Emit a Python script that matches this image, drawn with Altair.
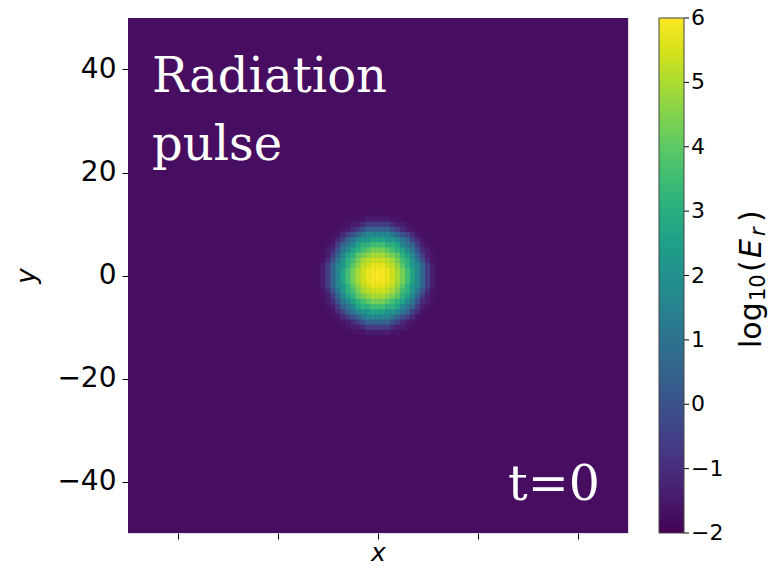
import altair as alt
import pandas as pd
import math

# ---- data ----
# radial profile of log10(E_r) around the pulse centre (radius in x/y units, 0.5 steps)
profile_r = [0, 0.5, 1, 1.5, 2, 2.5, 3, 3.5, 4, 4.5, 5, 5.5, 6, 6.5, 7, 7.5,
             8, 8.5, 9, 9.5, 10, 10.5, 11, 11.5, 12, 12.5]
profile_v = [6.00, 5.98, 5.93, 5.85, 5.73, 5.58, 5.39, 5.17, 4.91, 4.62, 4.30,
             3.94, 3.55, 3.13, 2.67, 2.18, 1.65, 1.09, 0.52, -0.05, -0.60,
             -1.05, -1.40, -1.60, -1.70, -1.74]
background_value = -1.75
cell_centres = list(range(-14, 15))
domain_x = [-50, 50]
domain_y = [-50, 50]
y_ticks = [-40, -20, 0, 20, 40]
x_ticks = [-40, -20, 0, 20, 40]
cbar_ticks = [-2, -1, 0, 1, 2, 3, 4, 5, 6]
color_domain = [-2, 6]

# ---- build tables ----
lookup = dict(zip(profile_r, profile_v))
half = 0.55  # half cell width drawn (slight overlap hides anti-aliasing seams)
rows = []
for cx in cell_centres:
    for cy in cell_centres:
        r = round(math.hypot(cx, cy) * 2) / 2
        if r in lookup:
            rows.append({"x": cx - half, "x2": cx + half, "y": cy - half,
                         "y2": cy + half, "v": lookup[r]})
cells = pd.DataFrame(rows)
bg = pd.DataFrame([{"x": domain_x[0], "x2": domain_x[1], "y": domain_y[0],
                    "y2": domain_y[1], "v": background_value}])
ticks_df = pd.DataFrame({"v": cbar_ticks})

cscale = alt.Scale(scheme="viridis", domain=color_domain)
color = alt.Color(
    "v:Q",
    scale=cscale,
    legend=alt.Legend(
        type="gradient",
        title=None, orient="right", offset=31, direction="vertical",
        gradientLength=515, gradientThickness=25, labelExpr="''",
        gradientStrokeColor="#444", gradientStrokeWidth=1,
    ),
)
xenc = alt.X("x:Q", scale=alt.Scale(domain=domain_x, nice=False, zero=False),
             axis=alt.Axis(title="x", values=x_ticks, labels=False, tickSize=6,
                           grid=False, domain=False, tickColor="black",
                           titleFont="DejaVu Sans", titleFontStyle="italic",
                           titleFontWeight="normal", titleFontSize=25,
                           titlePadding=1, titleColor="black"))
yenc = alt.Y("y:Q", scale=alt.Scale(domain=domain_y, nice=False, zero=False),
             axis=alt.Axis(title="y", values=y_ticks, tickSize=6, grid=False,
                           domain=False, tickColor="black", labelFont="DejaVu Sans",
                           labelFontSize=28, labelColor="black", labelPadding=6,
                           titleFont="DejaVu Sans", titleFontStyle="italic",
                           titleFontWeight="normal", titleFontSize=26,
                           titlePadding=17, titleColor="black"))

background = alt.Chart(bg).mark_rect().encode(x=xenc, x2="x2:Q", y=yenc, y2="y2:Q", color=color)
pulse = alt.Chart(cells).mark_rect().encode(
    x="x:Q", x2="x2:Q", y="y:Q", y2="y2:Q", color="v:Q")

cbar_y = alt.Y("v:Q", scale=alt.Scale(domain=color_domain, nice=False, zero=False), axis=None)
cbar_rules = alt.Chart(ticks_df).mark_rule(color="black", strokeWidth=1).encode(
    y=cbar_y, x=alt.value(556), x2=alt.value(561))
cbar_labels = alt.Chart(ticks_df).mark_text(
    font="DejaVu Sans", fontSize=22, color="black", align="left", baseline="middle").encode(
    y=cbar_y, x=alt.value(563), text=alt.Text("v:Q", format="d"))
cbar = alt.layer(cbar_rules, cbar_labels)


def label(text, x, y, align="left", size=48):
    return alt.Chart(pd.DataFrame({"t": [text]})).mark_text(
        font="DejaVu Serif", fontSize=size, color="white", align=align,
        baseline="alphabetic").encode(text="t:N", x=alt.value(x), y=alt.value(y))


def vtext(text, x, y, size=30, style="normal"):
    return alt.Chart(pd.DataFrame({"t": [text]})).mark_text(
        font="DejaVu Sans", fontSize=size, fontStyle=style, color="black", angle=270,
        align="left", baseline="alphabetic").encode(
        text="t:N", x=alt.value(x - 128), y=alt.value(y - 18))


t1 = label("Radiation", 24, 74)
t2 = label("pulse", 24, 142)
t3 = label("t=0", 472, 482, align="right", size=49)
title_parts = [
    vtext("log", 761, 348),
    vtext("10", 765, 301, size=21),
    vtext("(", 761, 272),
    vtext("E", 761, 258, style="italic"),
    vtext("r", 765, 236, size=21, style="italic"),
    vtext(")", 761, 222),
]

main = alt.layer(background, pulse, t1, t2, t3, *title_parts)
chart = alt.layer(main, cbar).resolve_scale(y="independent").properties(
    width=500, height=515,
    autosize=alt.AutoSizeParams(type="none"),
    padding={"left": 128, "top": 18, "right": 144, "bottom": 35},
).configure_view(stroke="black", strokeWidth=1.2).configure(background="white")

chart.save("out.html", embed_options={"renderer": "svg", "actions": False})
